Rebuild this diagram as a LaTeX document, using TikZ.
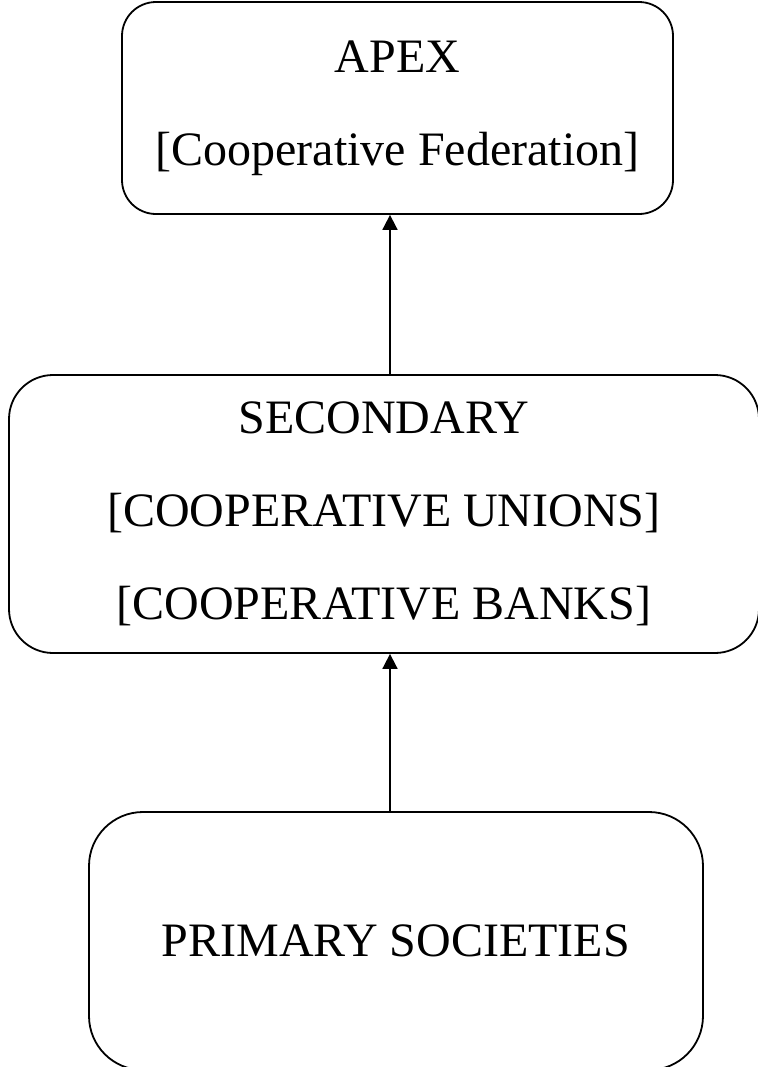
\documentclass[tikz,border=0pt]{standalone}
\usepackage{fontspec}
\setmainfont{Liberation Serif}
\usetikzlibrary{arrows.meta,positioning}

\begin{document}
\begin{tikzpicture}[x=0.5pt, y=-0.5pt,
    every node/.style={font=\fontsize{24}{46.5}\selectfont},
    box/.style={rectangle, draw=black, line width=0.9pt, align=center, inner sep=0pt},
    arrow/.style={-{Triangle[length=7.5pt, width=7.5pt]}, line width=0.9pt}
]
\useasboundingbox (0,0) rectangle (757,1067);

% Levels
\node[box, rounded corners=17pt, minimum width=275.5pt, minimum height=106pt] (apex) at (397.5,108) {APEX\\{[}Cooperative Federation{]}};
\node[box, rounded corners=22pt, minimum width=375pt, minimum height=139pt] (secondary) at (384,514) {SECONDARY\\{[}COOPERATIVE UNIONS{]}\\{[}COOPERATIVE BANKS{]}};
\node[box, rounded corners=27pt, minimum width=307pt, minimum height=129pt] (primary) at (396,941) {PRIMARY SOCIETIES};

% Arrows
\coordinate (axis) at (390,0);
\draw[arrow] (primary.north -| axis) -- (secondary.south -| axis);
\draw[arrow] (secondary.north -| axis) -- (apex.south -| axis);
\end{tikzpicture}
\end{document}
